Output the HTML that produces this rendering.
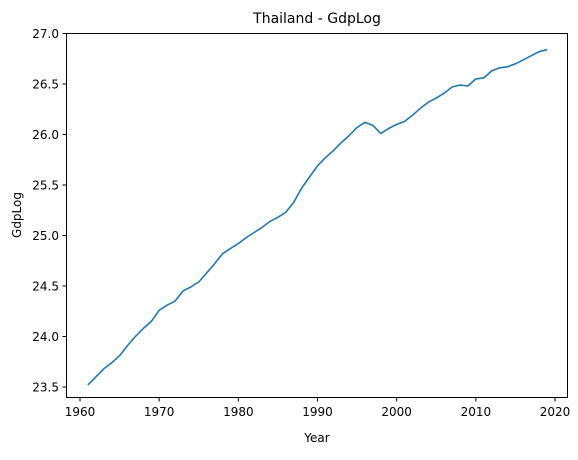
<!DOCTYPE html>
<html><head><meta charset="utf-8"><style>
body{margin:0;background:#fff;}
svg text{font-family:"DejaVu Sans","Liberation Sans",sans-serif;fill:#000;}
</style></head><body>
<svg id="chart" width="578" height="455">
<text x="317" y="23" font-size="14" text-anchor="middle">Thailand - GdpLog</text>
<text x="317" y="442" font-size="12" text-anchor="middle">Year</text>
<text x="21" y="215" font-size="12" text-anchor="middle" transform="rotate(-90 21 215)">GdpLog</text>
<g id="ticks"></g>
<path id="line" fill="none" stroke="#1f77b4" stroke-width="1.6" stroke-linejoin="round"></path>
<rect x="66.5" y="33.5" width="501" height="364" fill="none" stroke="#000" stroke-width="1"></rect>
</svg>
<script>
const years=[1961,1962,1963,1964,1965,1966,1967,1968,1969,1970,1971,1972,1973,1974,1975,1976,1977,1978,1979,1980,1981,1982,1983,1984,1985,1986,1987,1988,1989,1990,1991,1992,1993,1994,1995,1996,1997,1998,1999,2000,2001,2002,2003,2004,2005,2006,2007,2008,2009,2010,2011,2012,2013,2014,2015,2016,2017,2018,2019];
const gdpLog=[23.52,23.60,23.68,23.74,23.81,23.91,24.00,24.08,24.15,24.26,24.31,24.35,24.45,24.49,24.54,24.63,24.72,24.82,24.87,24.92,24.98,25.03,25.08,25.14,25.18,25.23,25.33,25.47,25.58,25.69,25.77,25.84,25.92,25.99,26.07,26.12,26.09,26.01,26.06,26.10,26.13,26.19,26.26,26.32,26.36,26.41,26.47,26.49,26.48,26.55,26.56,26.63,26.66,26.67,26.70,26.74,26.78,26.82,26.84];
const xTicks=[1960,1970,1980,1990,2000,2010,2020];
const yTicks=[23.5,24.0,24.5,25.0,25.5,26.0,26.5,27.0];
const xs=v=>80+(v-1960)*7.917;
const ys=v=>33.5+(27-v)*101;
const NS="http://www.w3.org/2000/svg";
const g=document.getElementById('ticks');
xTicks.forEach(t=>{
  const l=document.createElementNS(NS,'line');
  l.setAttribute('x1',xs(t));l.setAttribute('x2',xs(t));l.setAttribute('y1',397.5);l.setAttribute('y2',401.5);l.setAttribute('stroke','#000');
  
  
  g.appendChild(l);
  const tx=document.createElementNS(NS,'text');
  tx.setAttribute('x',xs(t));tx.setAttribute('y',416);tx.setAttribute('font-size','12');tx.setAttribute('text-anchor','middle');
  tx.textContent=t;
  
  
  g.appendChild(tx);
});
yTicks.forEach(t=>{
  const l=document.createElementNS(NS,'line');
  l.setAttribute('x1',62.5);l.setAttribute('x2',66.5);l.setAttribute('y1',ys(t));l.setAttribute('y2',ys(t));l.setAttribute('stroke','#000');
  
  
  g.appendChild(l);
  const tx=document.createElementNS(NS,'text');
  tx.setAttribute('x',59);tx.setAttribute('y',ys(t)+4.5);tx.setAttribute('font-size','12');tx.setAttribute('text-anchor','end');
  tx.textContent=t.toFixed(1);
  
  
  g.appendChild(tx);
});
document.getElementById('line').setAttribute('d',years.map((y,i)=>(i?'L':'M')+xs(y).toFixed(1)+' '+ys(gdpLog[i]).toFixed(1)).join(' '));
</script>
</body></html>
